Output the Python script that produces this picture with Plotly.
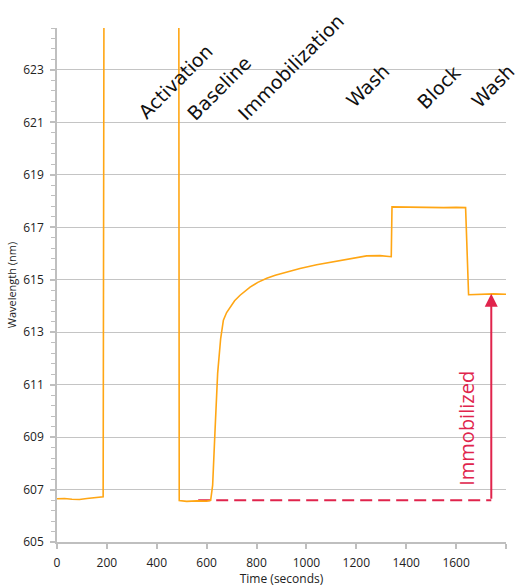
import plotly.graph_objects as go

# ---- data ----
time_s = [0, 30, 60, 90, 120, 150, 185, 189, 190, 488, 490, 520, 560, 600, 616,
          624, 633, 644, 656, 667, 680, 694, 712, 734, 754, 774, 805, 841, 875, 907,
          940, 974, 1041, 1108, 1175, 1241, 1295, 1340, 1343, 1400, 1450, 1500, 1550,
          1600, 1638, 1650, 1700, 1750, 1800]
wavelength_nm = [606.65, 606.66, 606.63, 606.62, 606.66, 606.68, 606.72, 630.0, 630.0,
                 630.0, 606.58, 606.55, 606.57, 606.56, 606.59,
                 607.17, 609.14, 611.43, 612.75, 613.46, 613.75, 613.97, 614.2, 614.41,
                 614.57, 614.72, 614.9, 615.06, 615.17, 615.26,
                 615.35, 615.43, 615.57, 615.69, 615.81, 615.91, 615.92, 615.88, 617.78,
                 617.77, 617.74, 617.73, 617.75,
                 617.76, 617.75, 614.43, 614.45, 614.46, 614.45]

phase_labels = ["Activation", "Baseline", "Immobilization", "Wash", "Block", "Wash"]
phase_label_x = [477, 650, 938, 1243, 1531, 1746]
phase_label_y = [622.57, 622.3, 623.1, 622.4, 622.35, 622.4]

immob_baseline = 606.59
immob_level = 614.47
immob_dash_x = [566, 1741]
immob_arrow_x = 1741
immob_label = "Immobilized"
immob_label_x = 1643
immob_label_y = 609.35

x_ticks = [0, 200, 400, 600, 800, 1000, 1200, 1400, 1600, 1800]
y_ticks = [605, 607, 609, 611, 613, 615, 617, 619, 621, 623]

ORANGE = "#FFA614"
RED = "#E0244C"

fig = go.Figure()

# dashed reference line (drawn first, under the sensor trace)
fig.add_trace(go.Scatter(
    x=immob_dash_x, y=[immob_baseline, immob_baseline], mode="lines",
    line=dict(color=RED, width=2, dash="12px,6px"), hoverinfo="skip",
    showlegend=False))

fig.add_trace(go.Scatter(
    x=time_s, y=wavelength_nm, mode="lines",
    line=dict(color=ORANGE, width=1.6), showlegend=False))

# arrow
fig.add_annotation(
    x=immob_arrow_x, y=immob_level, ax=immob_arrow_x, ay=immob_baseline,
    xref="x", yref="y", axref="x", ayref="y", text="", showarrow=True,
    arrowhead=2, arrowsize=1.3, arrowwidth=2, arrowcolor=RED, standoff=0)

fig.add_annotation(
    x=immob_label_x, y=immob_label_y, xref="x", yref="y", text=immob_label,
    showarrow=False, textangle=-90, font=dict(family="Open Sans", size=20, color=RED))

for lbl, lx, ly in zip(phase_labels, phase_label_x, phase_label_y):
    fig.add_annotation(
        x=lx, y=ly, xref="x", yref="y", text=lbl, showarrow=False,
        textangle=-45, xanchor="center", yanchor="middle",
        font=dict(family="DejaVu Sans", size=19, color="#111111"))

fig.update_layout(
    width=519, height=587,
    margin=dict(l=57, r=13, t=28, b=45),
    paper_bgcolor="white", plot_bgcolor="white",
    font=dict(family="Open Sans", size=12, color="#222222"),
)

fig.update_xaxes(
    range=[0, 1800], tickvals=x_ticks, showgrid=False, zeroline=False,
    automargin=False,
    showline=True, linecolor="#BFBFBF", linewidth=1.5,
    ticks="outside", ticklen=5, tickcolor="#BFBFBF", tickwidth=1.5,
    tickfont=dict(size=12, color="#222222"), ticklabelstandoff=4,
    title=dict(text="Time (seconds)", font=dict(size=12, color="#222222"), standoff=9),
)

fig.update_yaxes(
    range=[605, 624.6], tickvals=y_ticks, showgrid=True, gridcolor="#C4C4C4",
    gridwidth=1, zeroline=False, automargin=False,
    showline=True, linecolor="#BFBFBF", linewidth=1.5,
    ticks="outside", ticklen=5, tickcolor="#BFBFBF", tickwidth=1.5,
    minor=dict(tick0=605, dtick=0.4, ticks="outside", ticklen=4,
               tickcolor="#BFBFBF", tickwidth=1, showgrid=False),
    tickfont=dict(size=12, color="#222222"), ticklabelstandoff=4,
    title=dict(text="Wavelength (nm)", font=dict(size=11, color="#222222"), standoff=4),
)

fig.write_html("out.html")
